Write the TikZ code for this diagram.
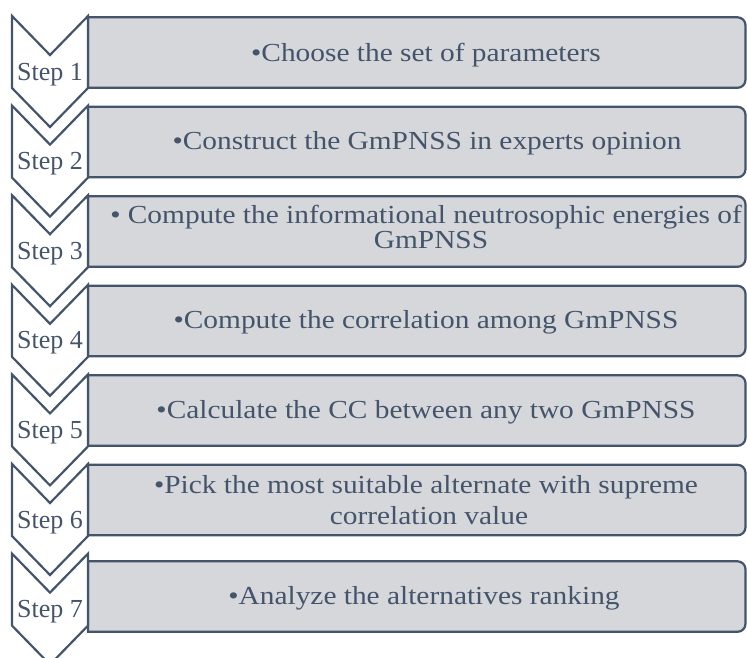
\documentclass[tikz,border=0pt]{standalone}
\usepackage{fontspec}
\setmainfont{Liberation Serif}
\newfontfamily\widefont{Liberation Serif}[FakeStretch=1.13]
\definecolor{slate}{HTML}{44546A}
\definecolor{boxgray}{HTML}{D6D7DB}
\tikzset{
  chev/.style={draw=slate, fill=white, line width=2.2pt, line join=miter},
  stepbox/.style={draw=slate, fill=boxgray, line width=2.2pt},
  steplabel/.style={text=slate, font=\fontsize{26}{28}\selectfont, inner sep=0pt, anchor=base},
  boxtext/.style={text=slate, font=\widefont\fontsize{26}{30}\selectfont, inner sep=0pt, anchor=base}
}
\begin{document}
\begin{tikzpicture}[x=1pt,y=-1pt]
\useasboundingbox (0,0) rectangle (747,657);
% boxes (pixel y measured downward)
\foreach \i/\bt in {0/17.3,1/106.8,2/196.3,3/285.8,4/375.3,5/464.8,6/561.3}{
  \pgfmathsetmacro{\bb}{\bt+70.5}
  \pgfmathsetmacro{\ct}{16+89.6*\i}
  \pgfmathsetmacro{\n}{int(\i+1)}
  \path[stepbox] (88,\bb) -- (88,\bt) -- (737.5,\bt) arc[start angle=90,end angle=0,x radius=8,y radius=-8] -- (745.5,\bb-8) arc[start angle=0,end angle=-90,x radius=8,y radius=-8] -- cycle;
  \path[chev] (12,\ct) -- (50,\ct+39) -- (88,\ct) -- (88,\ct+72) -- (50,\ct+111) -- (12,\ct+72) -- cycle;
  \node[steplabel] (s\n) at (50,\ct+64) {Step \n};
}
\node[boxtext] (t1)  at (426,61)    {•Choose the set of parameters};
\node[boxtext] (t2)  at (427,149.5) {•Construct the GmPNSS in experts opinion};
\node[boxtext] (t3a) at (426,223)   {• Compute the informational neutrosophic energies of};
\node[boxtext] (t3b) at (431,248)   {GmPNSS};
\node[boxtext] (t4)  at (426,328.5) {•Compute the correlation among GmPNSS};
\node[boxtext] (t5)  at (426,418.3) {•Calculate the CC between any two GmPNSS};
\node[boxtext] (t6a) at (426,493)   {•Pick the most suitable alternate with supreme};
\node[boxtext] (t6b) at (429,524)   {correlation value};
\node[boxtext] (t7)  at (424,604)   {•Analyze the alternatives ranking};
\end{tikzpicture}
\end{document}
